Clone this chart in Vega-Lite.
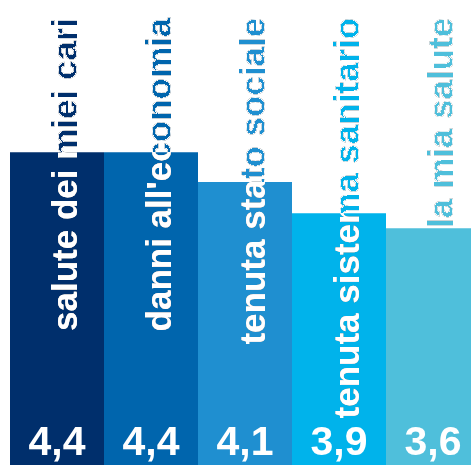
{
  "$schema": "https://vega.github.io/schema/vega-lite/v6.json",
  "width": 470,
  "height": 465,
  "autosize": {"type": "none"},
  "padding": {"left": 10, "top": 0, "right": 0, "bottom": 0},
  "background": "white",
  "config": {"view": {"stroke": null}},
  "data": {
    "values": [
      {"item": "salute dei miei cari", "h": 4.4, "label": "4,4"},
      {"item": "danni all'economia", "h": 4.4, "label": "4,4"},
      {"item": "tenuta stato sociale", "h": 3.98, "label": "4,1"},
      {"item": "tenuta sistema sanitario", "h": 3.54, "label": "3,9"},
      {"item": "la mia salute", "h": 3.33, "label": "3,6"}
    ]
  },
  "encoding": {
    "x": {"field": "item", "type": "nominal", "sort": null, "axis": null,
          "scale": {"paddingInner": 0, "paddingOuter": 0}}
  },
  "layer": [
    {
      "mark": {"type": "bar"},
      "encoding": {
        "y": {"field": "h", "type": "quantitative", "axis": null, "scale": {"domain": [0, 6.54], "nice": false, "zero": true}},
        "color": {"field": "item", "type": "nominal", "sort": null, "legend": null,
                  "scale": {"domain": ["salute dei miei cari", "danni all'economia", "tenuta stato sociale", "tenuta sistema sanitario", "la mia salute"],
                            "range": ["#002f6c", "#0065ad", "#1f8fd0", "#00b3eb", "#4fbfdb"]}}
      }
    },
    {
      "mark": {"type": "text", "angle": -90, "align": "right", "baseline": "alphabetic", "dy": 20,
               "font": "Liberation Sans", "fontWeight": "bold", "fontSize": 35,
               "fill": "white", "blend": "difference"},
      "encoding": {"y": {"datum": 6.29, "type": "quantitative"}, "text": {"field": "item"}}
    },
    {
      "mark": {"type": "text", "angle": -90, "align": "right", "baseline": "alphabetic", "dy": 20,
               "font": "Liberation Sans", "fontWeight": "bold", "fontSize": 35,
               "fill": "white", "blend": "color-dodge"},
      "encoding": {"y": {"datum": 6.29, "type": "quantitative"}, "text": {"field": "item"}}
    },
    {
      "mark": {"type": "text", "angle": -90, "align": "right", "baseline": "alphabetic", "dy": 20,
               "font": "Liberation Sans", "fontWeight": "bold", "fontSize": 35,
               "blend": "screen"},
      "encoding": {"y": {"datum": 6.29, "type": "quantitative"}, "text": {"field": "item"},
                   "color": {"field": "item", "type": "nominal", "sort": null, "legend": null}}
    },
    {
      "mark": {"type": "text", "align": "center", "baseline": "alphabetic", "dy": -10,
               "font": "Liberation Sans", "fontWeight": "bold", "fontSize": 41, "fill": "white"},
      "encoding": {"y": {"datum": 0, "type": "quantitative"}, "text": {"field": "label"}}
    }
  ]
}
